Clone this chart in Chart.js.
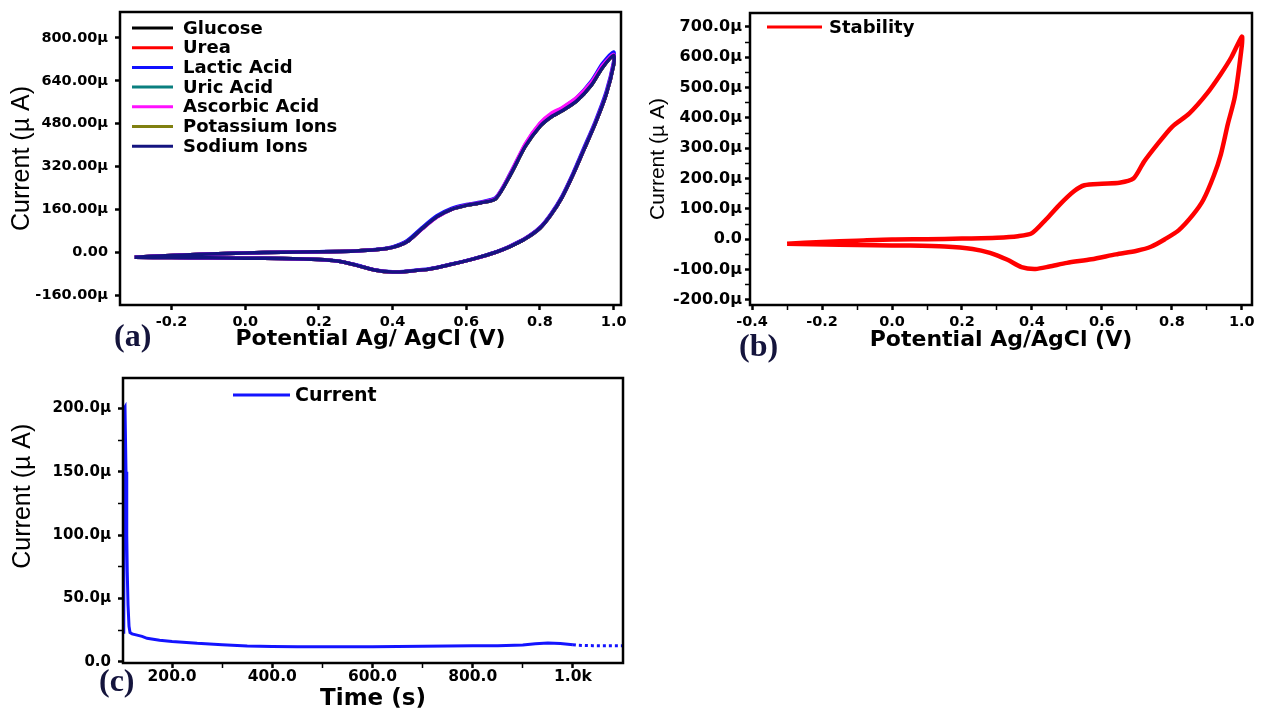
<!DOCTYPE html>
<html>
<head>
<meta charset="utf-8">
<script src="https://cdn.jsdelivr.net/npm/chart.js@4.4.1/dist/chart.umd.min.js"></script>
<style>
  html, body { margin: 0; padding: 0; background: #fff; }
  body { width: 1262px; height: 714px; position: relative; overflow: hidden; }
  canvas { position: absolute; }
  #chartA { left: 0; top: 0; }
  #chartB { left: 640px; top: 0; }
  #chartC { left: 0; top: 365px; }
  .tag { position: absolute; font-family: 'Liberation Serif', serif; font-weight: bold;
         font-size: 32px; line-height: 32px; color: #14143c; }
</style>
</head>
<body>
<canvas id="chartA" width="640" height="365"></canvas>
<canvas id="chartB" width="622" height="365"></canvas>
<canvas id="chartC" width="640" height="349"></canvas>
<div class="tag" style="left:114px; top:319px;">(a)</div>
<div class="tag" style="left:739px; top:329px;">(b)</div>
<div class="tag" style="left:99px; top:664px;">(c)</div>
<script>
// ---- data (currents in µA) ----

// (a) CV, forward scan then reverse scan
var potentialA = [-0.30, -0.20, -0.10, 0.00, 0.10, 0.20, 0.30, 0.36, 0.40, 0.44, 0.48, 0.52, 0.56, 0.60, 0.64, 0.68, 0.72, 0.76, 0.80, 0.83, 0.86, 0.90, 0.94, 0.97, 1.00,
                  1.00, 0.98, 0.95, 0.92, 0.89, 0.86, 0.83, 0.80, 0.76, 0.72, 0.68, 0.62, 0.56, 0.50, 0.45, 0.40, 0.35, 0.30, 0.25, 0.20, 0.10, 0.00, -0.10, -0.20, -0.30];
var currentA = [-19, -12, -7, -3, 0, 2, 5, 10, 18, 40, 88, 132, 160, 175, 185, 200, 290, 395, 470, 505, 528, 565, 625, 690, 735,
                700, 590, 480, 385, 290, 205, 140, 90, 50, 22, 0, -25, -45, -63, -70, -74, -66, -48, -33, -27, -23, -22, -21, -20, -19];
var lacticA = [-19, -12, -7, -3, 0, 2, 5, 11, 20, 44, 92, 136, 164, 178, 188, 204, 296, 402, 480, 515, 538, 578, 640, 705, 748,
               712, 600, 488, 392, 296, 210, 144, 93, 52, 24, 1, -24, -44, -62, -69, -73, -65, -47, -33, -27, -23, -22, -21, -20, -19];
var ascorbicA = [-19, -12, -7, -3, 0, 2, 5, 10, 18, 40, 86, 130, 160, 176, 186, 202, 295, 405, 482, 518, 540, 578, 635, 698, 738,
                 705, 592, 482, 386, 291, 206, 141, 91, 51, 23, 0, -25, -45, -63, -70, -74, -66, -48, -33, -27, -23, -22, -21, -20, -19];
var xTicksA = [-0.2, 0, 0.2, 0.4, 0.6, 0.8, 1.0];
var xLabelsA = ['-0.2', '0.0', '0.2', '0.4', '0.6', '0.8', '1.0'];
var yTicksA = [-160, 0, 160, 320, 480, 640, 800];
var yLabelsA = ['-160.00µ', '0.00', '160.00µ', '320.00µ', '480.00µ', '640.00µ', '800.00µ'];

// (b) stability CV
var potentialB = [-0.30, -0.20, -0.10, 0.00, 0.10, 0.20, 0.30, 0.36, 0.40, 0.44, 0.48, 0.52, 0.55, 0.60, 0.65, 0.69, 0.72, 0.76, 0.80, 0.85, 0.90, 0.94, 0.97, 1.00,
                  1.00, 0.98, 0.96, 0.94, 0.92, 0.89, 0.86, 0.82, 0.78, 0.74, 0.70, 0.64, 0.57, 0.50, 0.45, 0.41, 0.37, 0.33, 0.28, 0.23, 0.15, 0.05, -0.05, -0.15, -0.30];
var currentB = [-15, -9, -5, -1, 0, 2, 5, 10, 20, 65, 115, 158, 178, 183, 186, 200, 255, 315, 370, 415, 480, 545, 600, 668,
                640, 470, 380, 280, 210, 130, 80, 30, 0, -25, -38, -50, -66, -78, -90, -98, -92, -68, -45, -32, -24, -21, -20, -18, -15];
var xTicksB = [-0.4, -0.3, -0.2, -0.1, 0, 0.1, 0.2, 0.3, 0.4, 0.5, 0.6, 0.7, 0.8, 0.9, 1.0];
var xLabelsB = ['-0.4', '', '-0.2', '', '0.0', '', '0.2', '', '0.4', '', '0.6', '', '0.8', '', '1.0'];
var yTicksB = [-200, -150, -100, -50, 0, 50, 100, 150, 200, 250, 300, 350, 400, 450, 500, 550, 600, 650, 700];
var yLabelsB = ['-200.0µ', '', '-100.0µ', '', '0.0', '', '100.0µ', '', '200.0µ', '', '300.0µ', '', '400.0µ', '', '500.0µ', '', '600.0µ', '', '700.0µ'];

// (c) chronoamperometry
var timeC = [103.5, 104.5, 106, 108, 109.5, 110.5, 112, 114, 116, 120, 130, 140, 150, 175, 200, 250, 300, 350, 400, 450, 500, 550, 600, 650,
             700, 750, 800, 850, 900, 925, 950, 975, 1000, 1010, 1025, 1040, 1055, 1070, 1085, 1100];
var currentC = [22, 200, 201, 150, 100, 71, 45, 28, 23, 22, 21, 20, 18.5, 17, 16, 14.5, 13.5, 12.5, 12, 11.8, 11.8, 11.8, 11.8, 12,
                12.3, 12.5, 12.6, 12.7, 13.2, 14.2, 14.7, 14.3, 13.4, 13, 12.8, 12.7, 12.6, 12.6, 12.6, 12.6];
var xTicksC = [200, 300, 400, 500, 600, 700, 800, 900, 1000];
var xLabelsC = ['200.0', '', '400.0', '', '600.0', '', '800.0', '', '1.0k'];
var yTicksC = [0, 25, 50, 75, 100, 125, 150, 175, 200];
var yLabelsC = ['0.0', '', '50.0µ', '', '100.0µ', '', '150.0µ', '', '200.0µ'];

// ---- helpers ----
function points(xs, ys) {
    return xs.map(function (x, i) { return { x: x, y: ys[i] }; });
}

var frameBox = {
    id: 'frameBox',
    afterDraw: function (chart) {
        var a = chart.chartArea, ctx = chart.ctx;
        ctx.save();
        ctx.strokeStyle = '#000';
        ctx.lineWidth = 2.5;
        ctx.strokeRect(a.left, a.top, a.right - a.left, a.bottom - a.top);
        ctx.restore();
    }
};

// legend with line samples, placed inside the plot
var lineLegend = {
    id: 'lineLegend',
    afterDraw: function (chart, args, opts) {
        if (!opts || opts.x === undefined) return;
        var ctx = chart.ctx;
        ctx.save();
        ctx.font = opts.font;
        ctx.textBaseline = 'middle';
        ctx.fillStyle = '#000';
        chart.data.datasets.forEach(function (ds, i) {
            var y = opts.y + i * opts.rowHeight;
            ctx.strokeStyle = ds.borderColor;
            ctx.lineWidth = opts.lineWidth;
            ctx.beginPath();
            ctx.moveTo(opts.x, y);
            ctx.lineTo(opts.x + opts.lineLength, y);
            ctx.stroke();
            ctx.fillText(ds.label, opts.x + opts.lineLength + opts.gap, y + 1);
        });
        ctx.restore();
    }
};
Chart.register(frameBox, lineLegend);

Chart.defaults.font.family = 'DejaVu Sans';
Chart.defaults.font.weight = 'bold';
Chart.defaults.color = '#000';

function axis(opts) {
    return {
        min: opts.min,
        max: opts.max,
        border: { display: false },
        grid: {
            drawOnChartArea: false,
            drawTicks: true,
            tickLength: 5,
            color: '#000',
            tickWidth: function (c) { return opts.labels[c.index] === '' ? 1.5 : 2.5; }
        },
        afterBuildTicks: function (scale) {
            scale.ticks = opts.ticks.map(function (v) { return { value: v }; });
        },
        afterFit: function (scale) {
            if (opts.width) scale.width = opts.width;
            if (opts.height) scale.height = opts.height;
            scale.paddingTop = 0; scale.paddingBottom = 0;
            scale.paddingLeft = 0; scale.paddingRight = 0;
        },
        ticks: {
            autoSkip: false,
            maxRotation: 0,
            padding: opts.tickPad,
            font: { size: opts.tickSize, weight: 'bold' },
            callback: function (value, index) { return opts.labels[index]; }
        },
        title: {
            display: true,
            text: opts.title,
            font: opts.titleFont,
            padding: opts.titlePad
        }
    };
}

// (a) Interference chart
var ctxA = document.getElementById('chartA').getContext('2d');
var chartA = new Chart(ctxA, {
    type: 'scatter',
    data: {
        datasets: [
            { label: 'Glucose', data: points(potentialA, currentA), borderColor: '#000000', order: 6 },
            { label: 'Urea', data: points(potentialA, currentA), borderColor: '#ff0000', order: 5 },
            { label: 'Lactic Acid', data: points(potentialA, lacticA), borderColor: '#1010ff', order: 2 },
            { label: 'Uric Acid', data: points(potentialA, currentA), borderColor: '#0a7f7f', order: 4 },
            { label: 'Ascorbic Acid', data: points(potentialA, ascorbicA), borderColor: '#ff10ff', order: 1 },
            { label: 'Potassium Ions', data: points(potentialA, currentA), borderColor: '#808010', order: 3 },
            { label: 'Sodium Ions', data: points(potentialA, currentA), borderColor: '#141480', order: 0 }
        ]
    },
    options: {
        responsive: false,
        animation: false,
        datasets: { scatter: { showLine: true, pointRadius: 0, borderWidth: 3.5, tension: 0.25 } },
        layout: { padding: { left: 0, top: 12, right: 19, bottom: 0 } },
        scales: {
            x: axis({ min: -0.34, max: 1.02, ticks: xTicksA, labels: xLabelsA, height: 60, tickPad: 4, tickSize: 14.5,
                      title: 'Potential Ag/ AgCl (V)', titleFont: { size: 22, weight: 'bold' }, titlePad: { top: 0, bottom: 13 } }),
            y: axis({ min: -197, max: 897, ticks: yTicksA, labels: yLabelsA, width: 120, tickPad: 7, tickSize: 14.5,
                      title: 'Current (µ A)', titleFont: { family: 'Liberation Sans', size: 25, weight: 'normal' }, titlePad: { top: 7, bottom: 0 } })
        },
        plugins: {
            legend: { display: false },
            tooltip: { enabled: false },
            lineLegend: { x: 132, y: 28, rowHeight: 19.7, lineLength: 41, gap: 10, lineWidth: 3, font: 'bold 18px "DejaVu Sans"' }
        }
    }
});

// (b) Stability chart
var ctxB = document.getElementById('chartB').getContext('2d');
var chartB = new Chart(ctxB, {
    type: 'scatter',
    data: {
        datasets: [
            { label: 'Stability', data: points(potentialB, currentB), borderColor: '#ff0000' }
        ]
    },
    options: {
        responsive: false,
        animation: false,
        datasets: { scatter: { showLine: true, pointRadius: 0, borderWidth: 4.5, tension: 0.25 } },
        layout: { padding: { left: 0, top: 13, right: 10, bottom: 0 } },
        scales: {
            x: axis({ min: -0.406, max: 1.029, ticks: xTicksB, labels: xLabelsB, height: 60, tickPad: 4, tickSize: 14.5,
                      title: 'Potential Ag/AgCl (V)', titleFont: { size: 22, weight: 'bold' }, titlePad: { top: 0, bottom: 12 } }),
            y: axis({ min: -217, max: 746, ticks: yTicksB, labels: yLabelsB, width: 110, tickPad: 3, tickSize: 16,
                      title: 'Current (µ A)', titleFont: { family: 'Liberation Sans', size: 21, weight: 'normal' }, titlePad: { top: 6, bottom: 0 } })
        },
        plugins: {
            legend: { display: false },
            tooltip: { enabled: false },
            lineLegend: { x: 127, y: 27, rowHeight: 20, lineLength: 55, gap: 7, lineWidth: 3, font: 'bold 18px "DejaVu Sans"' }
        }
    }
});

// (c) Current vs time chart
var ctxC = document.getElementById('chartC').getContext('2d');
var chartC = new Chart(ctxC, {
    type: 'scatter',
    data: {
        datasets: [
            {
                label: 'Current',
                data: points(timeC, currentC),
                borderColor: '#1414ff',
                segment: { borderDash: function (c) { return c.p0.parsed.x >= 1000 ? [3, 3] : undefined; } }
            }
        ]
    },
    options: {
        responsive: false,
        animation: false,
        datasets: { scatter: { showLine: true, pointRadius: 0, borderWidth: 3, tension: 0 } },
        layout: { padding: { left: 0, top: 13, right: 17, bottom: 0 } },
        scales: {
            x: axis({ min: 102, max: 1100, ticks: xTicksC, labels: xLabelsC, height: 51, tickPad: 0, tickSize: 15.5,
                      title: 'Time (s)', titleFont: { size: 23, weight: 'bold' }, titlePad: { top: 0, bottom: 1 } }),
            y: axis({ min: -1, max: 224, ticks: yTicksC, labels: yLabelsC, width: 123, tickPad: 7, tickSize: 15,
                      title: '       Current (µ A)', titleFont: { family: 'Liberation Sans', size: 25, weight: 'normal' }, titlePad: { top: 8, bottom: 0 } })
        },
        plugins: {
            legend: { display: false },
            tooltip: { enabled: false },
            lineLegend: { x: 233, y: 30, rowHeight: 20, lineLength: 57, gap: 5, lineWidth: 3, font: 'bold 19px "DejaVu Sans"' }
        }
    }
});
</script>
</body>
</html>
